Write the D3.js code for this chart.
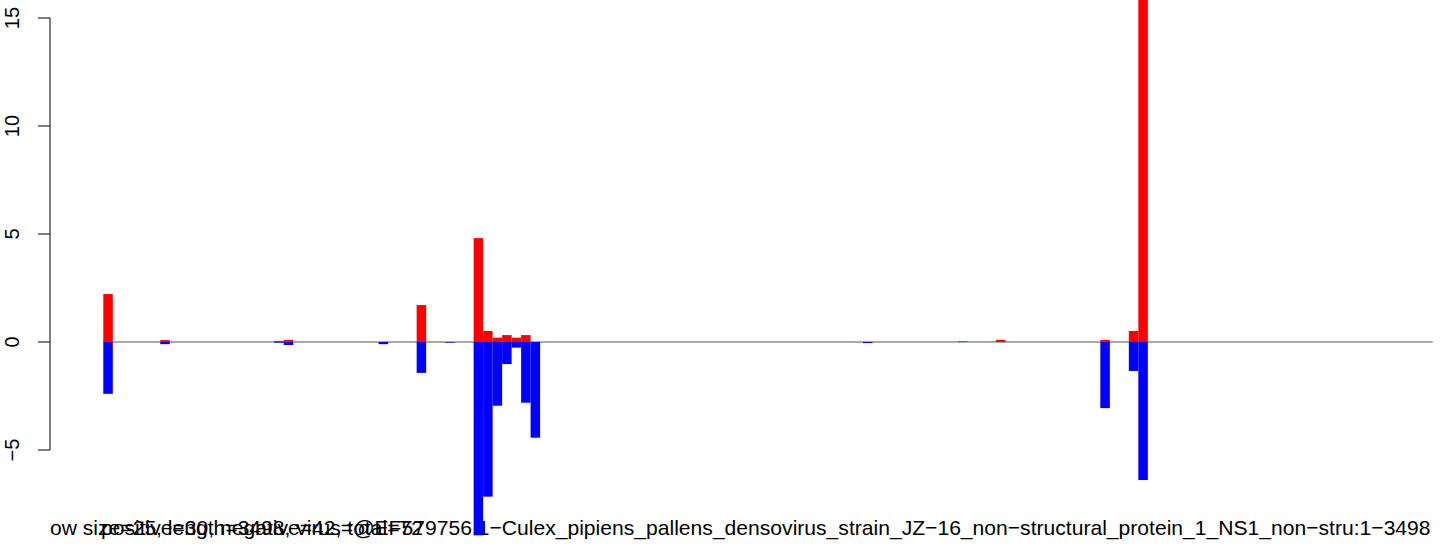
<!DOCTYPE html>
<html>
<head>
<meta charset="utf-8">
<script src="https://cdn.jsdelivr.net/npm/d3@7"></script>
<style>
  html, body { margin: 0; padding: 0; background: #fff; }
  svg { display: block; }
  text { font-family: "Liberation Sans", Arial, Helvetica, sans-serif; fill: #000; }
</style>
</head>
<body>
<svg id="chart" width="1444" height="546"></svg>
<script>
// ---- data ----
const windowIndex = d3.range(140); // 140 windows of size 25 over 3498 nt
const positiveValues = [
  2.22,0,0,0,0,0,0.09,0,0,0,
  0,0,0,0,0,0,0,0,0.05,0.1,
  0,0,0,0,0,0,0,0,0,0,
  0,0,0,1.71,0,0,0,0,0,4.81,
  0.51,0.2,0.32,0.2,0.32,0,0,0,0,0,
  0,0,0,0,0,0,0,0,0,0,
  0,0,0,0,0,0,0,0,0,0,
  0,0,0,0,0,0,0,0,0,0,
  0,0,0,0,0,0,0,0,0,0,
  0.03,0,0,0,0.1,0,0,0,0,0,
  0,0,0,0,0,0.1,0,0,0.51,18,
  0,0,0,0,0,0,0,0,0,0,
  0,0,0,0,0,0,0,0,0,0,
  0,0,0,0,0,0,0,0,0,0
];
const negativeValues = [
  -2.4,0,0,0,0,0,-0.1,0,0,0,
  0,0,0,0,0,0,0,0,-0.03,-0.14,
  0,0,0,0,0,0,0,0,0,-0.1,
  0,0,0,-1.43,0,0,-0.03,0,0,-8.95,
  -7.16,-2.95,-1.02,-0.26,-2.81,-4.43,0,0,0,0,
  0,0,0,0,0,0,0,0,0,0,
  0,0,0,0,0,0,0,0,0,0,
  0,0,0,0,0,0,0,0,0,0,
  -0.05,0,0,0,0,0,0,0,0,0,
  0,0,0,0,0,0,0,0,0,0,
  0,0,0,0,0,-3.06,0,0,-1.34,-6.39,
  0,0,0,0,0,0,0,0,0,0,
  0,0,0,0,0,0,0,0,0,0,
  0,0,0,0,0,0,0,0,0,0
];
const yTicks = [-5, 0, 5, 10, 15];
const captionMain = "ow size=25, length=3498, virus=@EF579756.1\u2212Culex_pipiens_pallens_densovirus_strain_JZ\u221216_non\u2212structural_protein_1_NS1_non\u2212stru:1\u22123498";
const captionCounts = "positive=30, negative=42, total=72";

// ---- layout ----
const svg = d3.select("#chart");
const x = d3.scaleBand().domain(windowIndex).range([103.3, 1432.7]).padding(0);
const y = d3.scaleLinear().domain([-5, 15]).range([450, 18]);

// captions (drawn first; bars paint over them as in the reference)
svg.append("text")
  .attr("x", 50).attr("y", 535)
  .attr("font-size", 21.1)
  .text(captionMain);
svg.append("text")
  .attr("x", 101).attr("y", 535)
  .attr("font-size", 21.1)
  .text(captionCounts);

// baseline
svg.append("line")
  .attr("x1", x.range()[0]).attr("x2", x.range()[1])
  .attr("y1", y(0)).attr("y2", y(0))
  .attr("stroke", "#555").attr("stroke-width", 1);

// positive bars
svg.append("g").selectAll("rect")
  .data(windowIndex.filter(i => positiveValues[i] !== 0))
  .join("rect")
  .attr("x", i => x(i))
  .attr("width", x.bandwidth())
  .attr("y", i => y(positiveValues[i]))
  .attr("height", i => y(0) - y(positiveValues[i]))
  .attr("fill", "#ff0000");

// negative bars
svg.append("g").selectAll("rect")
  .data(windowIndex.filter(i => negativeValues[i] !== 0))
  .join("rect")
  .attr("x", i => x(i))
  .attr("width", x.bandwidth())
  .attr("y", y(0))
  .attr("height", i => y(negativeValues[i]) - y(0))
  .attr("fill", "#0000ff");

// y axis (R style)
const axisG = svg.append("g").attr("transform", "translate(50,0)");
axisG.append("line")
  .attr("x1", 0).attr("x2", 0)
  .attr("y1", y(yTicks[0])).attr("y2", y(yTicks[yTicks.length - 1]))
  .attr("stroke", "#000");
axisG.selectAll("line.tick").data(yTicks).join("line")
  .attr("class", "tick")
  .attr("x1", -12).attr("x2", 0)
  .attr("y1", d => y(d)).attr("y2", d => y(d))
  .attr("stroke", "#000");
axisG.selectAll("text").data(yTicks).join("text")
  .attr("transform", d => `translate(-31,${y(d)}) rotate(-90)`)
  .attr("text-anchor", "middle")
  .attr("font-size", 20)
  .text(d => d < 0 ? "\u2212" + Math.abs(d) : String(d));
</script>
</body>
</html>
